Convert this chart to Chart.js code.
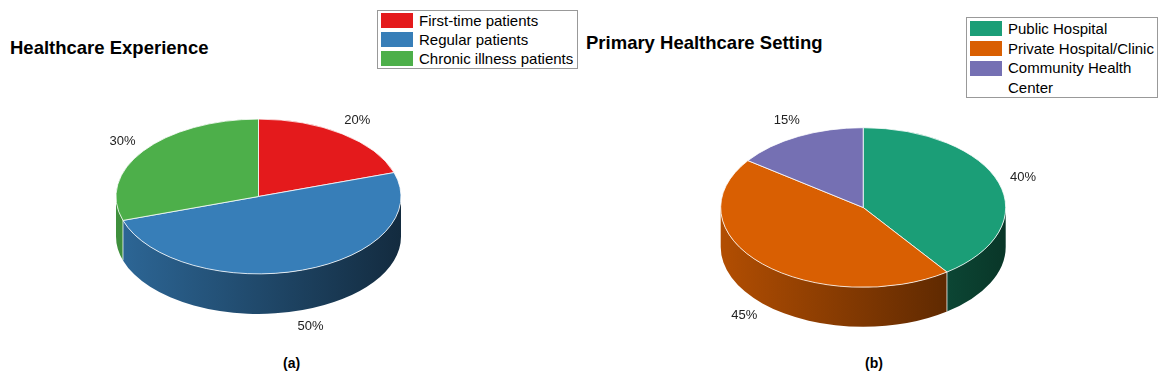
<!DOCTYPE html>
<html>
<head>
<meta charset="utf-8">
<script src="https://cdn.jsdelivr.net/npm/chart.js@4.4.1/dist/chart.umd.min.js"></script>
<style>
  html, body { margin:0; padding:0; background:#fff; }
  body { width:1171px; height:382px; position:relative; overflow:hidden; font-family:"Liberation Sans", Arial, sans-serif; }
  canvas { position:absolute; top:0; }
  .title { position:absolute; font-weight:bold; font-size:18.5px; color:#000; white-space:nowrap; }
  .cap { position:absolute; font-weight:bold; font-size:14px; color:#000; }
  .legend { position:absolute; border:1px solid #999; background:#fff; box-sizing:border-box; }
  .legend .sw { position:absolute; width:32px; height:15px; }
  .legend .tx { position:absolute; font-size:15px; color:#000; white-space:nowrap; }
</style>
</head>
<body>
<div class="title" style="left:10px; top:37px;">Healthcare Experience</div>
<div class="title" style="left:586px; top:32px;">Primary Healthcare Setting</div>
<div class="cap" style="left:283px; top:355px;">(a)</div>
<div class="cap" style="left:865px; top:355px;">(b)</div>
<div id="legA" class="legend" style="left:377px; top:10px; width:201px; height:59px;"></div>
<div id="legB" class="legend" style="left:966px; top:17px; width:192px; height:81px;"></div>
<canvas id="cA" width="585" height="382" style="left:0px;"></canvas>
<canvas id="cB" width="586" height="382" style="left:585px;"></canvas>
<script>
// ---- data ----
const categoriesA = ['First-time patients', 'Regular patients', 'Chronic illness patients'];
const valuesA = [20, 50, 30];
const colorsA = ['#e41a1c', '#377eb8', '#4daf4a'];

const categoriesB = ['Public Hospital', 'Private Hospital/Clinic', 'Community Health Center'];
const legendLinesB = [['Public Hospital'], ['Private Hospital/Clinic'], ['Community Health', 'Center']];
const valuesB = [40, 45, 15];
const colorsB = ['#1b9e77', '#d95f02', '#7570b3'];

// ---- helpers ----
function shade(hex, f) {
  const n = parseInt(hex.slice(1), 16);
  const r = Math.round(((n >> 16) & 255) * f), g = Math.round(((n >> 8) & 255) * f), b = Math.round((n & 255) * f);
  return `rgb(${r},${g},${b})`;
}

function buildLegend(id, lines, colors, rowTop, step) {
  const el = document.getElementById(id);
  let line = 0;
  lines.forEach((ls, i) => {
    const top = rowTop + line * step;
    const sw = document.createElement('div');
    sw.className = 'sw';
    sw.style.left = '3px';
    sw.style.top = (top + (step - 15) / 2) + 'px';
    sw.style.background = colors[i];
    el.appendChild(sw);
    const tx = document.createElement('div');
    tx.className = 'tx';
    tx.style.left = '41px';
    tx.style.top = top + 'px';
    tx.style.lineHeight = step + 'px';
    tx.innerHTML = ls.join('<br>');
    el.appendChild(tx);
    line += ls.length;
  });
}
buildLegend('legA', categoriesA.map(c => [c]), colorsA, 0.3, 19);
buildLegend('legB', legendLinesB, colorsB, 0.9, 19.7);

// ---- 3D pie plugin ----
const pie3d = {
  id: 'pie3d',
  beforeDatasetsDraw(chart, args, opts) {
    const ctx = chart.ctx;
    const meta = chart.getDatasetMeta(0);
    const first = meta.data[0];
    const cx = first.x, cy = first.y, rx = first.outerRadius, ry = rx * opts.k, d = opts.depth;
    const colors = chart.data.datasets[0].backgroundColor;
    const seams = [];
    meta.data.forEach((arc, i) => {
      const s = arc.startAngle, e = arc.endAngle;
      for (const off of [0, 2 * Math.PI, -2 * Math.PI]) {
        const vs = Math.max(s, off), ve = Math.min(e, off + Math.PI);
        if (ve > vs) {
          const a = vs - off, b = ve - off;
          const g = ctx.createLinearGradient(cx - rx, 0, cx + rx, 0);
          g.addColorStop(0, shade(colors[i], 0.82));
          g.addColorStop(1, shade(colors[i], 0.34));
          ctx.save();
          ctx.beginPath();
          ctx.ellipse(cx, cy, rx, ry, 0, a, b, false);
          ctx.lineTo(cx + rx * Math.cos(b), cy + ry * Math.sin(b) + d);
          ctx.ellipse(cx, cy + d, rx, ry, 0, b, a, true);
          ctx.closePath();
          ctx.fillStyle = g;
          ctx.fill();
          ctx.restore();
          if (a > 0.001 && a < Math.PI - 0.001) seams.push(a);
        }
      }
    });
    ctx.save();
    ctx.strokeStyle = 'rgba(255,255,255,0.75)';
    ctx.lineWidth = 1;
    seams.forEach(a => {
      const x = cx + rx * Math.cos(a), y = cy + ry * Math.sin(a);
      ctx.beginPath(); ctx.moveTo(x, y); ctx.lineTo(x, y + d); ctx.stroke();
    });
    ctx.restore();
    ctx.save();
    ctx.translate(cx, cy);
    ctx.scale(1, opts.k);
    ctx.translate(-cx, -cy);
  },
  afterDatasetsDraw(chart, args, opts) {
    const ctx = chart.ctx;
    ctx.restore();
    const meta = chart.getDatasetMeta(0);
    const vals = chart.data.datasets[0].data;
    ctx.save();
    ctx.font = '13px "Liberation Sans", Arial, sans-serif';
    ctx.fillStyle = '#222';
    ctx.textAlign = 'center';
    ctx.textBaseline = 'middle';
    meta.data.forEach((arc, i) => {
      const m = (arc.startAngle + arc.endAngle) / 2;
      const rx = arc.outerRadius, ry = rx * opts.k;
      const x = arc.x + rx * 1.18 * Math.cos(m);
      let y = arc.y + ry * 1.22 * Math.sin(m);
      if (Math.sin(m) > 0) y += opts.depth;
      ctx.fillText(vals[i] + '%', x, y);
    });
    ctx.restore();
  }
};

function makePie(id, labels, values, colors, padding, k, depth) {
  return new Chart(document.getElementById(id), {
    type: 'pie',
    data: {
      labels: labels,
      datasets: [{ data: values, backgroundColor: colors, borderColor: '#ffffff', borderWidth: 1 }]
    },
    options: {
      responsive: false,
      animation: false,
      devicePixelRatio: 1,
      layout: { padding: padding },
      plugins: {
        legend: { display: false },
        tooltip: { enabled: false },
        pie3d: { k: k, depth: depth }
      }
    },
    plugins: [pie3d]
  });
}

makePie('cA', categoriesA, valuesA, colorsA, { left: 115.5, right: 183.5, top: 53.5, bottom: 42.5 }, 0.543, 40);
makePie('cB', categoriesB, valuesB, colorsB, { left: 135.2, right: 164.8, top: 64.5, bottom: 31.5 }, 0.56, 39.5);
</script>
</body>
</html>
